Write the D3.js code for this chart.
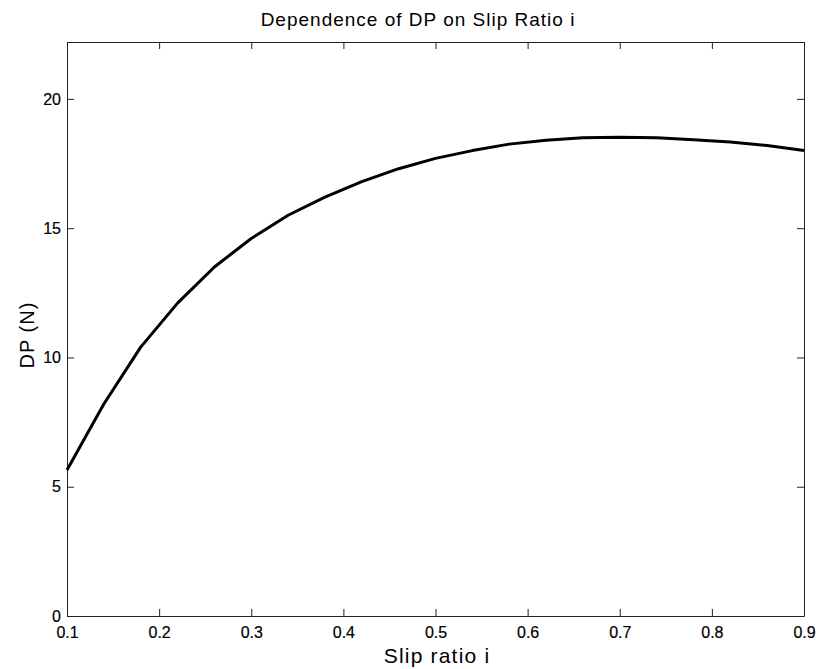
<!DOCTYPE html>
<html>
  <head>
    <meta charset="utf-8">
    <title>Dependence of DP on Slip Ratio i</title>
    <script src="https://d3js.org/d3.v7.min.js"></script>
    <style>
      body { margin: 0; background: #fff; }
      text { font-family: "Liberation Sans", Arial, sans-serif; fill: #000; }
      .tick text { font-size: 16px; stroke: #000; stroke-width: 0.2px; }
      .domain, .tick line { stroke: #222; stroke-width: 1; }
    </style>
  </head>
  <body>
    <svg id="chart" width="817" height="669"></svg>
    <script>
      // data
      var slip = [0.10, 0.14, 0.18, 0.22, 0.26, 0.30, 0.34, 0.38, 0.42, 0.46, 0.50,
                  0.54, 0.58, 0.62, 0.66, 0.70, 0.74, 0.78, 0.82, 0.86, 0.90];
      var dp = [5.65, 8.2, 10.4, 12.1, 13.5, 14.6, 15.5, 16.2, 16.8, 17.3, 17.7,
                18.0, 18.25, 18.4, 18.5, 18.52, 18.5, 18.42, 18.33, 18.2, 18.0];
      var xTicks = [0.1, 0.2, 0.3, 0.4, 0.5, 0.6, 0.7, 0.8, 0.9];
      var yTicks = [0, 5, 10, 15, 20];

      var margin = { top: 42, right: 13, bottom: 53, left: 67 };
      var width = 817, height = 669;
      var svg = d3.select("#chart");

      var x = d3.scaleLinear()
        .domain([0.1, 0.9])
        .range([margin.left, width - margin.right]);
      var y = d3.scaleLinear()
        .domain([0, 22.2])
        .range([height - margin.bottom, margin.top]);

      // frame with inward ticks on every side
      svg.append("g")
        .attr("transform", "translate(0," + y(0) + ")")
        .call(d3.axisBottom(x).tickValues(xTicks).tickFormat(d3.format(".1f"))
          .tickSize(-7).tickSizeOuter(0).tickPadding(11));
      svg.append("g")
        .attr("transform", "translate(0," + margin.top + ")")
        .call(d3.axisTop(x).tickValues(xTicks).tickFormat("")
          .tickSize(-7).tickSizeOuter(0));
      svg.append("g")
        .attr("transform", "translate(" + margin.left + ",0)")
        .call(d3.axisLeft(y).tickValues(yTicks).tickFormat(d3.format("d"))
          .tickSize(-7).tickSizeOuter(0).tickPadding(6));
      svg.append("g")
        .attr("transform", "translate(" + (width - margin.right) + ",0)")
        .call(d3.axisRight(y).tickValues(yTicks).tickFormat("")
          .tickSize(-7).tickSizeOuter(0));

      // curve
      var line = d3.line()
        .x(function(d, i) { return x(slip[i]); })
        .y(function(d) { return y(d); });
      svg.append("path")
        .datum(dp)
        .attr("d", line)
        .attr("fill", "none")
        .attr("stroke", "#000")
        .attr("stroke-width", 3)
        .attr("stroke-linejoin", "round");

      // labels
      svg.append("text")
        .attr("x", 418)
        .attr("y", 26)
        .attr("text-anchor", "middle")
        .style("font-size", "19px")
        .style("letter-spacing", "1px")
        .text("Dependence of DP on Slip Ratio i");
      svg.append("text")
        .attr("x", 437)
        .attr("y", 663)
        .attr("text-anchor", "middle")
        .style("font-size", "21px")
        .style("letter-spacing", "1.2px")
        .text("Slip ratio i");
      svg.append("text")
        .attr("transform", "translate(34,335) rotate(-90)")
        .attr("text-anchor", "middle")
        .style("font-size", "20px")
        .style("letter-spacing", "1px")
        .text("DP (N)");
    </script>
  </body>
</html>
